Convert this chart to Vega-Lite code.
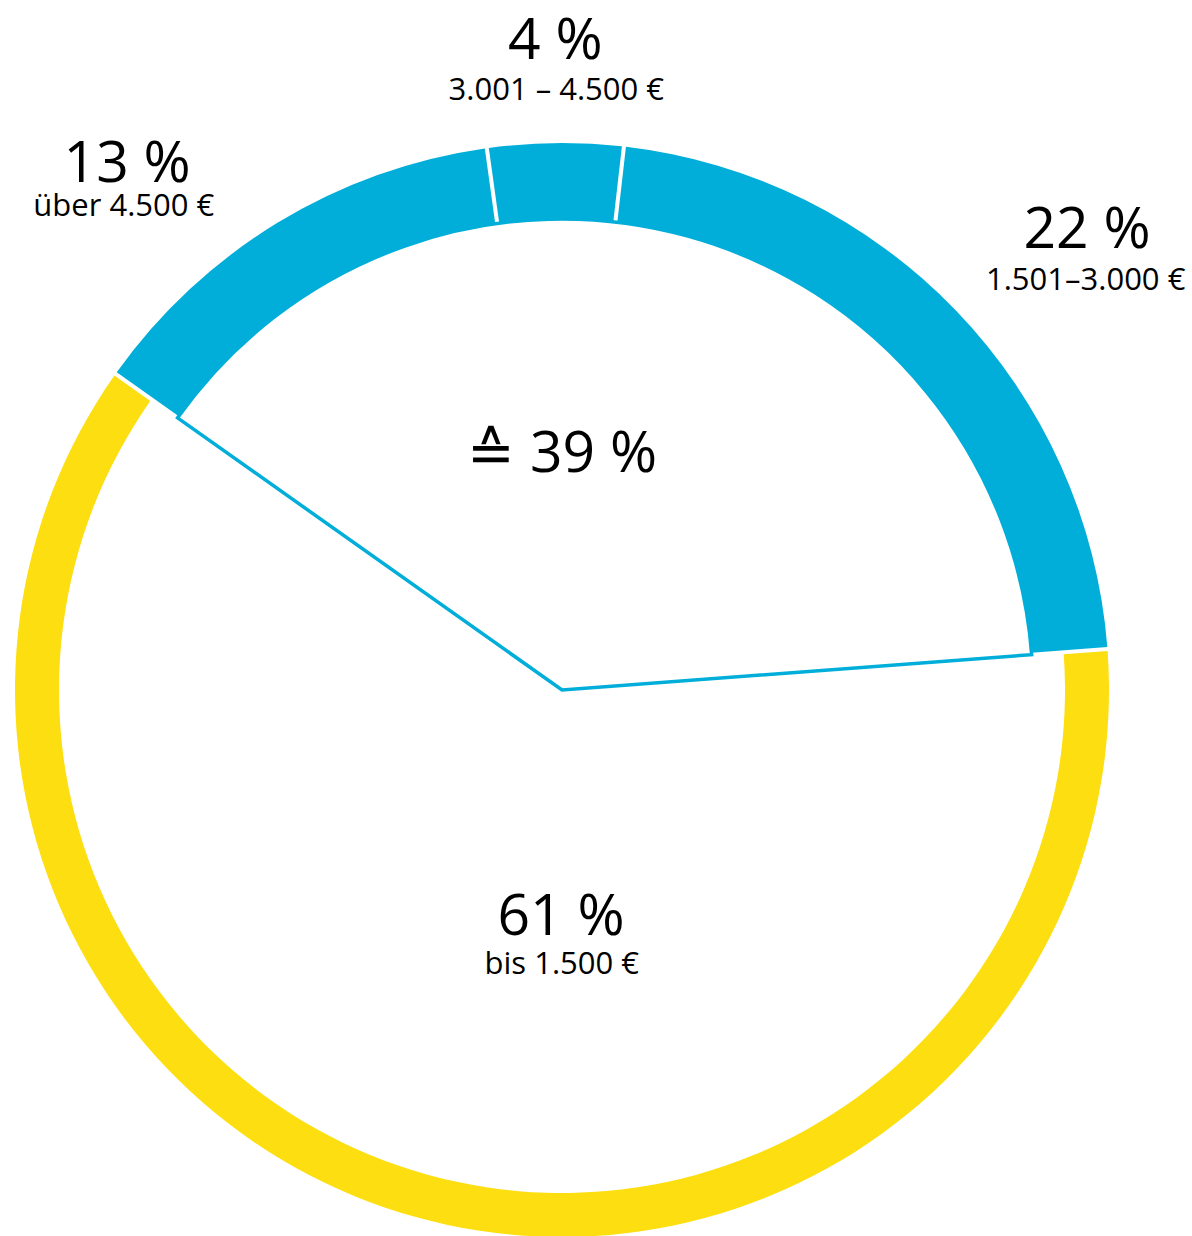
{
  "$schema": "https://vega.github.io/schema/vega-lite/v6.json",
  "width": 1124,
  "height": 1092,
  "autosize": {"type": "none"},
  "padding": {"left": 0, "top": 144, "right": 68, "bottom": 0},
  "background": "#ffffff",
  "config": {"view": {"stroke": null}, "text": {"font": "Open Sans", "color": "#000000"}},
  "data": {
    "values": [
      {"idx": 1, "share": 13, "range": "über 4.500 €", "group": "blue"},
      {"idx": 2, "share": 4, "range": "3.001 – 4.500 €", "group": "blue"},
      {"idx": 3, "share": 22, "range": "1.501–3.000 €", "group": "blue"},
      {"idx": 4, "share": 61, "range": "bis 1.500 €", "group": "yellow"}
    ]
  },
  "transform": [{"calculate": "datum.share + ' %'", "as": "pct"}],
  "layer": [
    {
      "transform": [
        {"stack": "share", "groupby": [], "sort": [{"field": "idx", "order": "ascending"}], "as": ["v0", "v1"]},
        {"filter": "datum.group == 'blue'"},
        {"aggregate": [{"op": "min", "field": "v0", "as": "a0"}, {"op": "max", "field": "v1", "as": "a1"}]}
      ],
      "mark": {"type": "arc", "outerRadius": 471, "innerRadius": 0, "fill": "#ffffff", "fillOpacity": 0, "stroke": "#00AED9", "strokeWidth": 3.5},
      "encoding": {
        "theta": {"field": "a0", "type": "quantitative", "scale": {"domain": [0, 100], "range": [-0.954695, 5.328490]}},
        "theta2": {"field": "a1"}
      }
    },
    {
      "transform": [
        {"stack": "share", "groupby": [], "sort": [{"field": "idx", "order": "ascending"}], "as": ["v0", "v1"]},
        {"filter": "datum.group == 'blue'"}
      ],
      "mark": {"type": "arc", "outerRadius": 547, "innerRadius": 471, "padAngle": 0.0056, "color": "#00AED9"},
      "encoding": {
        "theta": {"field": "v0", "type": "quantitative", "scale": {"domain": [0, 100], "range": [-0.954695, 5.328490]}},
        "theta2": {"field": "v1"}
      }
    },
    {
      "transform": [
        {"stack": "share", "groupby": [], "sort": [{"field": "idx", "order": "ascending"}], "as": ["v0", "v1"]},
        {"filter": "datum.group == 'yellow'"}
      ],
      "mark": {"type": "arc", "outerRadius": 547, "innerRadius": 503, "padAngle": 0.0056, "color": "#FDDE10"},
      "encoding": {
        "theta": {"field": "v0", "type": "quantitative", "scale": {"domain": [0, 100], "range": [-0.954695, 5.328490]}},
        "theta2": {"field": "v1"}
      }
    },
    {
      "mark": {"type": "text", "radius": 631, "dx": 1, "fontSize": 57, "align": "center", "baseline": "alphabetic"},
      "encoding": {
        "theta": {"field": "share", "type": "quantitative", "stack": true, "scale": {"domain": [0, 100], "range": [-0.954695, 5.328490]}},
        "order": {"field": "idx", "type": "quantitative"},
        "text": {"condition": {"test": "datum.idx == 2", "field": "pct", "type": "nominal"}, "value": ""}
      }
    },
    {
      "mark": {"type": "text", "radius": 590, "dx": 1.5, "fontSize": 31, "align": "center", "baseline": "alphabetic"},
      "encoding": {
        "theta": {"field": "share", "type": "quantitative", "stack": true, "scale": {"domain": [0, 100], "range": [-0.954695, 5.328490]}},
        "order": {"field": "idx", "type": "quantitative"},
        "text": {"condition": {"test": "datum.idx == 2", "field": "range", "type": "nominal"}, "value": ""}
      }
    },
    {
      "mark": {"type": "text", "radius": 594.5, "dx": -126, "fontSize": 57, "align": "center", "baseline": "alphabetic"},
      "encoding": {
        "theta": {"field": "share", "type": "quantitative", "stack": true, "scale": {"domain": [0, 100], "range": [-0.954695, 5.328490]}},
        "order": {"field": "idx", "type": "quantitative"},
        "text": {"condition": {"test": "datum.idx == 1", "field": "pct", "type": "nominal"}, "value": ""}
      }
    },
    {
      "mark": {"type": "text", "radius": 554.7, "dx": -150, "fontSize": 31, "align": "center", "baseline": "alphabetic"},
      "encoding": {
        "theta": {"field": "share", "type": "quantitative", "stack": true, "scale": {"domain": [0, 100], "range": [-0.954695, 5.328490]}},
        "order": {"field": "idx", "type": "quantitative"},
        "text": {"condition": {"test": "datum.idx == 1", "field": "range", "type": "nominal"}, "value": ""}
      }
    },
    {
      "mark": {"type": "text", "radius": 637.4, "dx": 65.7, "fontSize": 57, "align": "center", "baseline": "alphabetic"},
      "encoding": {
        "theta": {"field": "share", "type": "quantitative", "stack": true, "scale": {"domain": [0, 100], "range": [-0.954695, 5.328490]}},
        "order": {"field": "idx", "type": "quantitative"},
        "text": {"condition": {"test": "datum.idx == 3", "field": "pct", "type": "nominal"}, "value": ""}
      }
    },
    {
      "mark": {"type": "text", "radius": 576.9, "dx": 108, "fontSize": 31, "align": "center", "baseline": "alphabetic"},
      "encoding": {
        "theta": {"field": "share", "type": "quantitative", "stack": true, "scale": {"domain": [0, 100], "range": [-0.954695, 5.328490]}},
        "order": {"field": "idx", "type": "quantitative"},
        "text": {"condition": {"test": "datum.idx == 3", "field": "range", "type": "nominal"}, "value": ""}
      }
    },
    {
      "mark": {"type": "text", "radius": 254.3, "dx": 66.9, "fontSize": 57, "align": "center", "baseline": "alphabetic"},
      "encoding": {
        "theta": {"field": "share", "type": "quantitative", "stack": true, "scale": {"domain": [0, 100], "range": [-0.954695, 5.328490]}},
        "order": {"field": "idx", "type": "quantitative"},
        "text": {"condition": {"test": "datum.idx == 4", "field": "pct", "type": "nominal"}, "value": ""}
      }
    },
    {
      "mark": {"type": "text", "radius": 294.5, "dx": 78.5, "fontSize": 31, "align": "center", "baseline": "alphabetic"},
      "encoding": {
        "theta": {"field": "share", "type": "quantitative", "stack": true, "scale": {"domain": [0, 100], "range": [-0.954695, 5.328490]}},
        "order": {"field": "idx", "type": "quantitative"},
        "text": {"condition": {"test": "datum.idx == 4", "field": "range", "type": "nominal"}, "value": ""}
      }
    },
    {
      "transform": [
        {"aggregate": [{"op": "sum", "field": "share", "as": "total"}], "groupby": ["group"]},
        {"calculate": "'≙ ' + datum.total + ' %'", "as": "label"}
      ],
      "mark": {"type": "text", "radius": 226.2, "dx": -60.4, "fontSize": 57, "align": "center", "baseline": "alphabetic"},
      "encoding": {
        "theta": {"field": "total", "type": "quantitative", "stack": true, "scale": {"domain": [0, 100], "range": [-0.954695, 5.328490]}},
        "order": {"field": "group", "type": "nominal"},
        "text": {"condition": {"test": "datum.group == 'blue'", "field": "label", "type": "nominal"}, "value": ""}
      }
    }
  ]
}
